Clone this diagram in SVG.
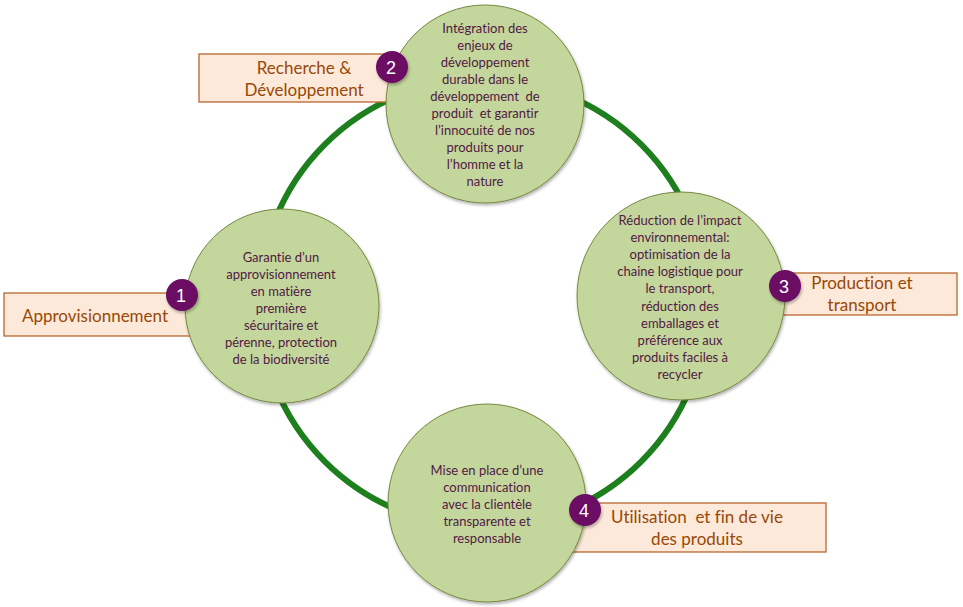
<svg xmlns="http://www.w3.org/2000/svg" width="963" height="607" viewBox="0 0 963 607">
  <defs>
    <filter id="sh" x="-20%" y="-20%" width="140%" height="140%">
      <feDropShadow dx="1" dy="2" stdDeviation="1.5" flood-color="#000" flood-opacity="0.3"/>
    </filter>
    <style>
      .ring { fill: none; stroke: #1E7F1E; stroke-width: 6; }
      .node { fill: #C3D69B; stroke: #76883F; stroke-width: 1; filter: url(#sh); }
      .ntext { font-family: Lato, "Open Sans", "Liberation Sans", sans-serif; font-size: 13px; fill: #521845; text-anchor: middle; font-variant-ligatures: none; white-space: pre; }
      .box { fill: #FDE9D9; stroke: #B8682E; stroke-width: 1.3; }
      .btext { font-family: Lato, "Open Sans", "Liberation Sans", sans-serif; font-size: 17px; fill: #984807; text-anchor: middle; font-variant-ligatures: none; white-space: pre; }
      .badge { fill: #6A0F63; filter: url(#sh); }
      .num { font-family: "Liberation Sans", Arial, sans-serif; font-size: 18px; fill: #FFFFFF; text-anchor: middle; }
    </style>
  </defs>
  <rect width="963" height="607" fill="#FFFFFF"/>

  <g id="connectors">
    <circle class="ring" cx="483" cy="303" r="224"/>
  </g>

  <g id="label-rd">
    <rect class="box" x="199" y="54" width="196" height="48"/>
    <text class="btext" x="304" y="74">Recherche &amp;</text>
    <text class="btext" x="304" y="96">Développement</text>
  </g>
  <g id="label-appro">
    <rect class="box" x="4" y="293" width="190" height="43"/>
    <text class="btext" x="95" y="322">Approvisionnement</text>
  </g>
  <g id="label-prod">
    <rect class="box" x="770" y="273" width="187" height="42"/>
    <text class="btext" x="862" y="289">Production et</text>
    <text class="btext" x="862" y="311">transport</text>
  </g>
  <g id="label-util">
    <rect class="box" x="570" y="503" width="256" height="49"/>
    <text class="btext" x="697" y="523" xml:space="preserve">Utilisation  et fin de vie</text>
    <text class="btext" x="697" y="545">des produits</text>
  </g>

  <g id="node-top">
    <circle class="node" cx="485" cy="104" r="99"/>
    <text class="ntext" x="485" y="32.5">Intégration des</text>
    <text class="ntext" x="485" y="49.5">enjeux de</text>
    <text class="ntext" x="485" y="66.5">développement</text>
    <text class="ntext" x="485" y="83.5">durable dans le</text>
    <text class="ntext" x="485" y="100.5" xml:space="preserve">développement  de</text>
    <text class="ntext" x="485" y="117.5" xml:space="preserve">produit  et garantir</text>
    <text class="ntext" x="485" y="134.5">l’innocuité de nos</text>
    <text class="ntext" x="485" y="151.5">produits pour</text>
    <text class="ntext" x="485" y="168.5">l’homme et la</text>
    <text class="ntext" x="485" y="185.5">nature</text>
  </g>

  <g id="node-left">
    <circle class="node" cx="282" cy="306" r="97"/>
    <text class="ntext" x="281" y="261.5">Garantie d’un</text>
    <text class="ntext" x="281" y="278.5">approvisionnement</text>
    <text class="ntext" x="281" y="295.5">en matière</text>
    <text class="ntext" x="281" y="312.5">première</text>
    <text class="ntext" x="281" y="329.5">sécuritaire et</text>
    <text class="ntext" x="281" y="346.5">pérenne, protection</text>
    <text class="ntext" x="281" y="363.5">de la biodiversité</text>
  </g>

  <g id="node-right">
    <circle class="node" cx="681" cy="296" r="104"/>
    <text class="ntext" x="680" y="224.5">Réduction de l’impact</text>
    <text class="ntext" x="680" y="241.7">environnemental:</text>
    <text class="ntext" x="680" y="258.9">optimisation de la</text>
    <text class="ntext" x="680" y="276.1">chaine logistique pour</text>
    <text class="ntext" x="680" y="293.3">le transport,</text>
    <text class="ntext" x="680" y="310.5">réduction des</text>
    <text class="ntext" x="680" y="327.7">emballages et</text>
    <text class="ntext" x="680" y="344.9">préférence aux</text>
    <text class="ntext" x="680" y="362.1">produits faciles à</text>
    <text class="ntext" x="680" y="379.3">recycler</text>
  </g>

  <g id="node-bottom">
    <circle class="node" cx="487" cy="503" r="99"/>
    <text class="ntext" x="487" y="474.5">Mise en place d’une</text>
    <text class="ntext" x="487" y="491.5">communication</text>
    <text class="ntext" x="487" y="508.5">avec la clientèle</text>
    <text class="ntext" x="487" y="525.5">transparente et</text>
    <text class="ntext" x="487" y="542.5">responsable</text>
  </g>

  <g id="badge-1">
    <circle class="badge" cx="182" cy="295" r="16"/>
    <text class="num" x="181" y="301.5">1</text>
  </g>
  <g id="badge-2">
    <circle class="badge" cx="392" cy="67" r="16"/>
    <text class="num" x="391" y="73.5">2</text>
  </g>
  <g id="badge-3">
    <circle class="badge" cx="785" cy="286" r="16"/>
    <text class="num" x="784" y="292.5">3</text>
  </g>
  <g id="badge-4">
    <circle class="badge" cx="585" cy="510" r="16"/>
    <text class="num" x="584" y="516.5">4</text>
  </g>
</svg>
